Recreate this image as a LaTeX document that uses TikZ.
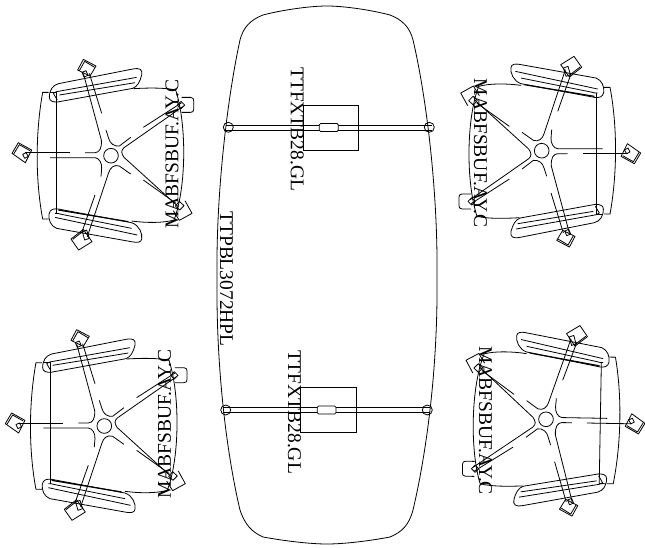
\documentclass[tikz,border=0pt]{standalone}
\usepackage{fontspec}
\setmainfont{Liberation Serif}
\tikzset{
  ln/.style={line width=0.6pt,black},
  lbl/.style={inner sep=0pt,font=\fontsize{14.6pt}{15pt}\selectfont,text=black},
}
\newcommand{\chairshape}[3]{%
\begin{scope}[shift={(#1,#2)},rotate=#3,x=.25pt,y=-.25pt,shift={(-333,-347)},ln,line join=round]
  % back
  \draw (146,157)--(128,157) .. controls (106,280) and (106,420) .. (128,537)--(146,537);
  \draw (150,157)--(170,157)--(170,520);
  % seat
  \draw (400,146) .. controls (450,143) and (495,143) .. (527,150) .. controls (560,250) and (560,440) .. (522,540) .. controls (490,549) and (440,549) .. (395,543);
  % arms
  \draw (148,172) .. controls (148,150) and (158,136) .. (175,131) -- (398,87) .. controls (420,83) and (428,88) .. (425,105) .. controls (420,125) and (412,140) .. (398,145) -- (172,186) .. controls (160,186) and (148,184) .. (148,172) -- cycle;
  \draw (160,160) .. controls (166,154) and (172,155) .. (180,153) -- (410,112);
  \draw (160,160) -- (172,180);
  \draw (178,165) -- (405,128);
  \draw (147,522) .. controls (150,508) and (160,505) .. (175,507) -- (395,548) .. controls (418,556) and (428,580) .. (425,597) .. controls (424,607) and (412,608) .. (400,606) -- (170,565) .. controls (152,558) and (145,540) .. (147,522) -- cycle;
  \draw[line width=.9pt] (175,510) -- (385,545);
  \draw (165,532) -- (412,585);
  \draw (165,520) .. controls (170,518) and (178,522) .. (190,524) -- (395,565);
  % hub
  \draw (333,347) circle (22);
  % legs
  \draw (75,338) -- (210,338);
  \draw (255,338) -- (285,338) .. controls (298,337) and (306,326) .. (304,300) -- (250,100);
  \draw (150,353) -- (285,353) .. controls (298,354) and (306,370) .. (305,385) -- (303,410);
  \draw (268,100) -- (305,220);
  \draw (318,270) -- (326,295) .. controls (330,310) and (342,320) .. (358,318) -- (392,292);
  \draw (430,262) -- (545,188);
  \draw (548,200) -- (372,323) .. controls (362,332) and (364,340) .. (372,352) -- (535,500);
  \draw (528,490) -- (430,420);
  \draw (392,402) -- (358,378) .. controls (342,372) and (330,384) .. (326,398) -- (262,590);
  \draw (285,465) -- (245,578);
  % casters
  \draw (36,340) -- (55,308) -- (95,330) -- (76,368) -- cycle;
  \draw (41,342) -- (58,314) -- (90,332);
  \draw (68,343) -- (78,338) -- (85,349) -- (74,355) -- cycle;
  \draw (233,90) -- (250,58) -- (288,78) -- (270,108) -- cycle;
  \draw (238,92) -- (254,64) -- (284,82);
  \draw (246,97) -- (258,92) -- (264,106) -- (252,111) -- cycle;
  \draw (545,172) -- (572,172) .. controls (580,172) and (581,178) .. (581,182) -- (581,208) .. controls (581,214) and (578,217) .. (572,217) -- (545,217);
  \draw (532,195) -- (543,184) -- (554,195) -- (543,206) -- cycle;
  \draw (555,482) -- (576,520) -- (538,541) -- (520,512);
  \draw (526,498) -- (538,484) -- (552,497) -- (539,510) -- cycle;
  \draw (213,597) -- (250,568) -- (276,605) -- (236,630) -- cycle;
  \draw (218,598) -- (250,573);
  \draw (247,575) -- (260,570) -- (268,595) -- (254,600) -- cycle;
\end{scope}}
\begin{document}
\begin{tikzpicture}[x=.75pt,y=-.75pt]
\useasboundingbox (0,0) rectangle (645,548);
% table
\draw[ln] (327,6) .. controls (310,6) and (282,10) .. (263,15) .. controls (250,20) and (243,28) .. (240,40)
  .. controls (228,95) and (216,190) .. (217,277) .. controls (216,370) and (227,455) .. (240,510)
  .. controls (245,525) and (252,532) .. (263,537) .. controls (285,541) and (310,544) .. (327,544)
  .. controls (344,544) and (369,541) .. (390,537) .. controls (402,532) and (409,525) .. (413,510)
  .. controls (426,455) and (438,370) .. (437,277) .. controls (438,190) and (426,95) .. (413,40)
  .. controls (410,28) and (403,20) .. (390,15) .. controls (371,10) and (344,6) .. (327,6) -- cycle;
% top pedestal
\draw[ln] (303,105) rectangle (358.5,150);
\draw[ln] (226,125.3) -- (432,125.3);
\draw[ln] (226,130) -- (432,130);
\draw[ln] (228.3,127.3) circle (5);
\draw[ln] (429.3,127.3) circle (5);
\draw[ln,fill=white,rounded corners=1pt] (319.3,123.5) rectangle (338.3,131.5);
% bottom pedestal
\draw[ln] (300.7,387.7) rectangle (356.7,432.3);
\draw[ln] (223,407.3) -- (430,407.3);
\draw[ln] (223,412.3) -- (430,412.3);
\draw[ln] (225.7,410) circle (5);
\draw[ln] (427.3,410) circle (5);
\draw[ln,fill=white,rounded corners=1pt] (317.3,406) rectangle (336,414);
% chairs
\chairshape{111}{155.7}{0}
\chairshape{541.7}{150.7}{180}
\chairshape{104.3}{426}{0}
\chairshape{546}{419.3}{179}
% labels
\node[lbl,rotate=-90] (t1) at (297.3,129.2) {TTFXTB28.GL};
\node[lbl,rotate=-90] (t2) at (294.5,412) {TTFXTB28.GL};
\node[lbl,rotate=-90] (t3) at (226.5,279) {TTPBL3072HPL};
\node[lbl,rotate=90] (m1) at (172,154.2) {MABFSBUF.AY.C};
\node[lbl,rotate=-90] (m2) at (480.5,153.4) {MABFSBUF.AY.C};
\node[lbl,rotate=90] (m3) at (164.5,424.3) {MABFSBUF.AY.C};
\node[lbl,rotate=-90] (m4) at (485.5,420.5) {MABFSBUF.AY.C};
\end{tikzpicture}
\end{document}
